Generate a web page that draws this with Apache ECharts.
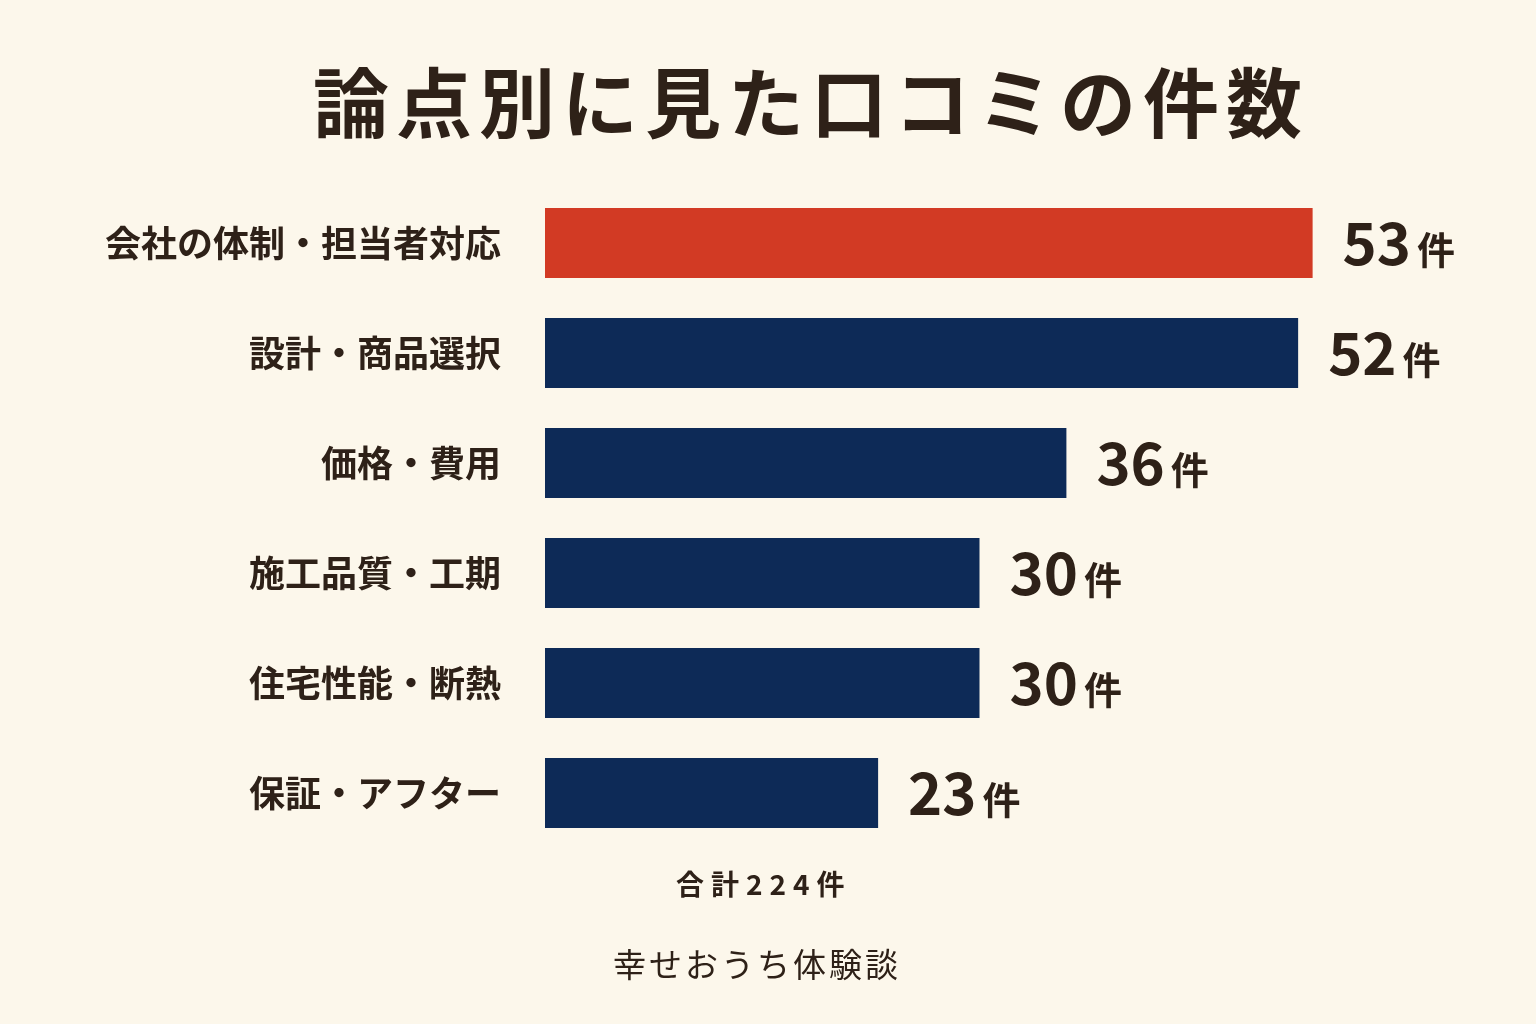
<!DOCTYPE html>
<html><head><meta charset="utf-8">
<script src="https://cdn.jsdelivr.net/npm/echarts@6/dist/echarts.min.js"></script>
<style>html,body{margin:0;padding:0;background:#fcf7eb;}#c{width:1536px;height:1024px;}</style>
</head><body><div id="c"></div>
<script>
const categories = ["会社の体制・担当者対応","設計・商品選択","価格・費用","施工品質・工期","住宅性能・断熱","保証・アフター"];
const counts = [53, 52, 36, 30, 30, 23];
const barColors = ["#d23a24","#0d2a57","#0d2a57","#0d2a57","#0d2a57","#0d2a57"];
const titleText = "論点別に見た口コミの件数";
const totalText = "合計224件";
const sourceText = "幸せおうち体験談";

const textColor = "#2e2118";
const font = "'Noto Sans CJK JP', 'Noto Sans', sans-serif";
function spaced(str) {
  const chars = Array.from(str);
  return chars.map((c, i) => (i < chars.length - 1 ? '{s|' : '{e|') + c + '}').join('');
}
const chart = echarts.init(document.getElementById('c'));
chart.setOption({
  backgroundColor: "#fcf7eb",
  animation: false,
  title: {
    text: spaced(titleText), left: 308, top: 60,
    textStyle: {
      fontSize: 76, fontWeight: 'bold', color: textColor, fontFamily: font,
      rich: {
        s: { fontSize: 76, fontWeight: 'bold', color: textColor, fontFamily: font, padding: [0, 7, 0, 0] },
        e: { fontSize: 76, fontWeight: 'bold', color: textColor, fontFamily: font }
      }
    }
  },
  graphic: [
    { type: 'text', left: 676, top: 870, style: {
        text: spaced(totalText), fill: textColor,
        rich: {
          s: { fontSize: 28, fontWeight: 'bold', fill: textColor, fontFamily: font, padding: [0, 7, 0, 0] },
          e: { fontSize: 28, fontWeight: 'bold', fill: textColor, fontFamily: font }
        } } },
    { type: 'text', left: 613, top: 948, style: {
        text: spaced(sourceText), fill: textColor,
        rich: {
          s: { fontSize: 33, fill: textColor, fontFamily: font, padding: [0, 3, 0, 0] },
          e: { fontSize: 33, fill: textColor, fontFamily: font }
        } } }
  ],
  grid: { left: 545, right: 122, top: 188, bottom: 176 },
  xAxis: { type: 'value', min: 0, max: 60, show: false },
  yAxis: {
    type: 'category', inverse: true, data: categories,
    axisLine: { show: false }, axisTick: { show: false },
    axisLabel: { margin: 44, fontSize: 36, fontWeight: 'bold', color: textColor, fontFamily: font }
  },
  series: [{
    type: 'bar', barWidth: 70,
    data: counts.map((v, i) => ({ value: v, itemStyle: { color: barColors[i] } })),
    label: {
      show: true, position: 'right', distance: 30,
      formatter: p => '{n|' + p.value + '}{u|件}',
      rich: {
        n: { fontSize: 58, fontWeight: 'bold', color: textColor, fontFamily: font, padding: [0, 6, 0, 0] },
        u: { fontSize: 38, fontWeight: 'bold', color: textColor, fontFamily: font, padding: [14, 0, 0, 0] }
      }
    }
  }]
});
</script></body></html>
